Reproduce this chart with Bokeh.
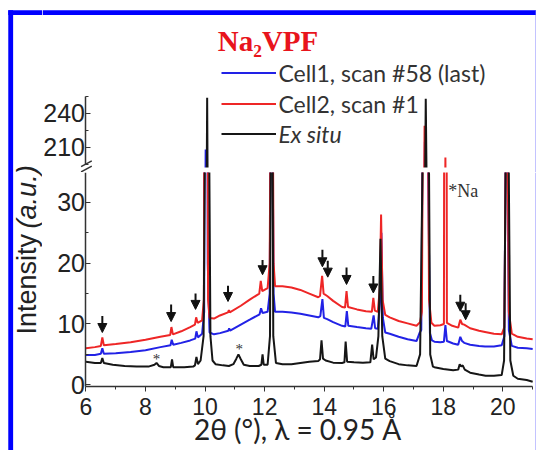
from math import pi

from bokeh.core.properties import value
from bokeh.embed import file_html
from bokeh.layouts import column, row
from bokeh.models import (Arrow, BoxAnnotation, ColumnDataSource, FixedTicker, Label,
                          Legend, LegendItem, NormalHead, Range1d)
from bokeh.plotting import figure
from bokeh.resources import INLINE

# ---- values (2theta in degrees, intensity in a.u.) ----
cell1_x = [6.00, 6.30, 6.50, 6.55, 6.60, 7.00, 7.50, 8.00, 8.50, 8.84, 8.88, 8.93,
           9.20, 9.50, 9.67, 9.71, 9.76, 9.90, 9.97, 10.02, 10.09, 10.15, 10.30,
           10.50, 10.78, 10.81, 10.84, 11.20, 11.50, 11.83, 11.88, 11.93, 12.10,
           12.17, 12.23, 12.30, 12.35, 12.60, 12.90, 13.20, 13.50, 13.80, 13.87,
           13.94, 13.99, 14.10, 14.30, 14.60, 14.71, 14.76, 14.81, 15.10, 15.40,
           15.58, 15.66, 15.71, 15.80, 15.88, 15.92, 15.97, 16.05, 16.20, 16.50,
           16.80, 17.10, 17.20, 17.26, 17.33, 17.38, 17.43, 17.48, 17.55, 17.62,
           17.70, 17.90, 18.02, 18.07, 18.12, 18.33, 18.50, 18.57, 18.63, 18.70,
           18.90, 19.20, 19.40, 19.70, 19.96, 20.05, 20.12, 20.20, 20.30, 20.50,
           20.80, 21.00]
cell1_y = [4.9, 4.9, 5.1, 6.0, 5.1, 5.2, 5.4, 5.7, 6.2, 6.5, 7.4, 6.6,
           6.9, 7.3, 7.6, 8.8, 7.8, 8.4, 12.0, 208.0, 20.0, 8.6, 8.3,
           8.5, 8.9, 9.3, 8.9, 9.9, 10.7, 11.6, 12.6, 11.8, 12.0,
           15.0, 70.0, 15.0, 12.0, 12.0, 11.9, 11.7, 11.4, 11.1, 11.3,
           14.1, 11.0, 10.8, 10.3, 9.7, 9.6, 12.1, 9.7, 9.5, 9.3,
           9.2, 11.4, 9.3, 9.2, 14.0, 25.0, 11.0, 8.6, 8.4, 7.9,
           7.5, 7.2, 8.5, 9.0, 60.0, 215.0, 120.0, 40.0, 8.5, 7.3,
           7.1, 7.0, 7.1, 9.8, 7.2, 6.8, 6.6, 7.9, 7.2, 6.9,
           6.6, 6.4, 6.3, 6.3, 6.5, 8.0, 60.0, 9.0, 6.4, 6.1,
           6.0, 5.9]

cell2_x = [6.00, 6.30, 6.50, 6.55, 6.60, 7.00, 7.50, 8.00, 8.50, 8.83, 8.87, 8.92,
           9.20, 9.50, 9.66, 9.70, 9.75, 9.90, 9.96, 10.04, 10.10, 10.15, 10.30,
           10.50, 10.77, 10.80, 10.83, 11.20, 11.50, 11.82, 11.87, 11.92, 12.10,
           12.17, 12.24, 12.30, 12.35, 12.60, 12.90, 13.20, 13.50, 13.80, 13.86,
           13.93, 13.98, 14.10, 14.30, 14.60, 14.70, 14.75, 14.80, 15.10, 15.40,
           15.60, 15.65, 15.70, 15.80, 15.87, 15.91, 15.96, 16.05, 16.20, 16.50,
           16.80, 17.10, 17.22, 17.28, 17.33, 17.37, 17.42, 17.47, 17.52, 17.60,
           17.70, 17.90, 18.02, 18.07, 18.12, 18.30, 18.50, 18.57, 18.63, 18.70,
           18.90, 19.20, 19.40, 19.70, 19.96, 20.05, 20.13, 20.20, 20.30, 20.50,
           20.80, 21.00]
cell2_y = [6.0, 6.2, 6.4, 7.8, 6.5, 6.7, 7.0, 7.4, 7.9, 8.2, 9.5, 8.3,
           8.8, 9.5, 9.9, 11.1, 10.2, 10.6, 14.0, 190.0, 14.0, 11.0, 10.9,
           11.4, 11.9, 12.3, 11.9, 13.0, 14.0, 15.0, 17.1, 15.4, 15.9,
           20.0, 80.0, 20.0, 16.2, 16.2, 16.0, 15.6, 15.0, 14.4, 14.6,
           17.9, 15.0, 14.6, 13.8, 12.8, 12.7, 15.4, 12.8, 12.4, 12.1,
           12.0, 14.3, 12.2, 12.0, 16.0, 28.0, 14.0, 11.5, 11.1, 10.5,
           10.1, 9.7, 10.3, 12.0, 60.0, 229.0, 150.0, 60.0, 14.0, 10.2,
           9.7, 9.8, 10.0, 201.0, 10.2, 9.7, 9.4, 10.7, 10.0, 9.9,
           9.3, 8.9, 8.7, 8.4, 8.3, 9.5, 60.0, 12.0, 8.4, 7.9,
           7.6, 7.5]

exsitu_x = [6.00, 6.30, 6.50, 6.55, 6.60, 6.90, 7.30, 7.70, 8.10, 8.30, 8.37, 8.45,
            8.60, 8.85, 8.89, 8.93, 9.30, 9.60, 9.66, 9.71, 9.76, 9.85, 9.95, 10.03,
            10.07, 10.11, 10.18, 10.25, 10.35, 10.60, 10.80, 10.95, 11.05, 11.12,
            11.20, 11.30, 11.50, 11.80, 11.89, 11.93, 11.97, 12.10, 12.18, 12.24,
            12.29, 12.38, 12.60, 12.90, 13.20, 13.50, 13.80, 13.86, 13.91, 13.96,
            14.05, 14.30, 14.60, 14.68, 14.72, 14.77, 15.00, 15.30, 15.55, 15.61,
            15.66, 15.74, 15.82, 15.89, 15.95, 16.05, 16.20, 16.50, 16.80, 17.10,
            17.22, 17.30, 17.37, 17.41, 17.45, 17.50, 17.56, 17.65, 17.70, 18.00,
            18.33, 18.50, 18.55, 18.60, 18.65, 18.72, 18.90, 19.20, 19.42, 19.70,
            19.96, 20.04, 20.10, 20.15, 20.19, 20.25, 20.35, 20.50, 20.80, 21.00]
exsitu_y = [3.8, 3.6, 3.6, 4.4, 3.6, 3.3, 3.1, 3.0, 3.0, 3.3, 3.6, 3.1,
            2.9, 2.9, 4.2, 2.9, 2.9, 3.0, 3.2, 4.6, 3.4, 4.0, 8.0, 60.0,
            254.0, 60.0, 8.0, 4.0, 3.4, 3.2, 3.1, 3.4, 4.3, 5.0,
            4.2, 3.3, 3.1, 3.1, 3.3, 5.0, 3.3, 3.3, 8.0, 80.0,
            8.0, 3.6, 3.4, 3.4, 3.6, 3.8, 3.9, 4.2, 7.3, 4.3,
            4.0, 3.65, 3.6, 3.7, 7.1, 3.8, 3.7, 3.65, 3.7, 6.6,
            4.2, 4.5, 8.0, 24.0, 8.0, 4.3, 3.9, 3.4, 3.2, 3.1,
            5.0, 35.0, 120.0, 253.0, 150.0, 50.0, 5.0, 3.0, 2.9, 2.6,
            2.4, 2.5, 3.4, 3.0, 3.2, 2.5, 2.0, 1.7, 1.5, 1.5,
            1.6, 4.0, 40.0, 70.0, 40.0, 4.0, 1.5, 1.0, 0.8, 0.5]

# arrows marking the new reflections (x, arrow top, arrow tip)
arrow_x = [6.55, 8.86, 9.68, 10.77, 11.93, 13.94, 14.12, 14.75, 15.65, 18.57, 18.75]
arrow_top = [11.3, 13.2, 15.0, 16.3, 20.5, 22.2, 20.4, 19.3, 17.9, 14.8, 13.4]
arrow_tip = [8.6, 10.4, 12.4, 13.7, 18.1, 19.4, 17.7, 16.5, 15.1, 12.1, 10.7]

# impurity asterisks on the ex situ pattern
star_x = [8.37, 11.15]
star_y = [4.2, 5.9]

x_ticks = [6, 8, 10, 12, 14, 16, 18, 20]
x_minor = [7, 9, 11, 13, 15, 17, 19, 21]
low_ticks = [0, 10, 20, 30]
low_minor = [5, 15, 25]
high_ticks = [210, 240]
high_minor = [195, 225, 255]

BLUE = "#2222e6"
RED = "#ee2626"
BLACK = "#161616"
AXIS = "#333333"
FRAME_BLUE = "#0000ff"

# whole graphic is drawn 536x450 so it fits inside the 8px page margin
SX = 536 / 552
SY = 450 / 466
LAB_W = 42
FIG_W = 536 - LAB_W
TOP_H = 172
LOW_H = 450 - TOP_H


# pixel positions of the original graphic -> axis values
def x_at(px):
    return 6 + (px - 88) / 30.67


def hi_at(py):
    return 240 + (117 - py) / 1.1667


def lo_at(py):
    return (398 - py) / 6.3


x_range = Range1d(x_at(LAB_W / SX), x_at(552))


def add_yaxis(fig, ticks, minor, bounds):
    ax = fig.yaxis[0]
    ax.fixed_location = 6
    ax.bounds = bounds
    ax.ticker = FixedTicker(ticks=ticks, minor_ticks=minor)
    ax.major_tick_in = 5
    ax.major_tick_out = 0
    ax.minor_tick_in = 3
    ax.minor_tick_out = 0
    ax.axis_line_width = 1.5
    ax.axis_line_color = AXIS
    ax.major_tick_line_color = AXIS
    ax.minor_tick_line_color = AXIS
    ax.major_label_text_font = "Liberation Sans"
    ax.major_label_text_font_size = "25px"
    ax.major_label_text_color = "#222222"
    ax.major_label_standoff = 1


def draw_traces(fig):
    rs = []
    for xs, ys, col in [(cell1_x, cell1_y, BLUE), (cell2_x, cell2_y, RED),
                        (exsitu_x, exsitu_y, BLACK)]:
        rs.append(fig.line(xs, ys, line_color=col, line_width=2))
    return rs


def box(**kw):
    return BoxAnnotation(fill_alpha=1, line_color=None, **kw)


# ---- upper part of the broken axis ----
top = figure(width=FIG_W, height=TOP_H, x_range=x_range,
             y_range=Range1d(hi_at(TOP_H / SY), hi_at(0)),
             x_axis_location=None, toolbar_location=None, output_backend="svg",
             min_border=0, outline_line_color=None)
top.grid.visible = False
add_yaxis(top, high_ticks, high_minor, (195, 255))
r_blue, r_red, r_black = draw_traces(top)
top.add_layout(box(left=6.3, top=hi_at(173), fill_color="white"))
# axis break marks
top.segment(x0=[x_at(83)] * 2, y0=[hi_at(172), hi_at(177.5)],
            x1=[x_at(94)] * 2, y1=[hi_at(166), hi_at(171.5)],
            line_color=AXIS, line_width=1.5)
top.add_layout(box(bottom=hi_at(15), top=hi_at(10), fill_color=FRAME_BLUE))
top.add_layout(box(left=x_at(551), top=hi_at(10), fill_color="#8080ff"))

top.add_layout(Label(x=x_at(275.5), y=hi_at(42), text="Na₂VPF", text_align="center",
                     text_baseline="alphabetic", text_font="Liberation Serif",
                     text_font_style="bold", text_font_size="29px",
                     text_color="#e8141c"))

leg1 = Legend(items=[LegendItem(label="Cell1, scan #58 (last)", renderers=[r_blue]),
                     LegendItem(label="Cell2, scan #1", renderers=[r_red])],
              location=(228 * SX - LAB_W, 54))
leg2 = Legend(items=[LegendItem(label="Ex situ", renderers=[r_black])],
              location=(228 * SX - LAB_W, 24), label_text_font_style="italic")
for leg in (leg1, leg2):
    leg.glyph_width = 55
    leg.glyph_height = 29
    leg.label_height = 29
    leg.label_standoff = 2
    leg.spacing = 2
    leg.padding = 0
    leg.margin = 0
    leg.border_line_color = None
    leg.background_fill_alpha = 0
    leg.label_text_font = "Lato"
    leg.label_text_font_size = "23px"
    leg.label_text_color = "#333333"
    top.add_layout(leg)

# ---- lower part of the broken axis ----
low = figure(width=FIG_W, height=LOW_H, x_range=x_range,
             y_range=Range1d(lo_at(466), lo_at(TOP_H / SY)),
             toolbar_location=None, output_backend="svg", min_border=0,
             outline_line_color=None)
low.grid.visible = False
add_yaxis(low, low_ticks, low_minor, (lo_at(400), lo_at(TOP_H / SY)))
xa = low.xaxis[0]
xa.fixed_location = lo_at(400)
xa.bounds = (6, 21)
xa.ticker = FixedTicker(ticks=x_ticks, minor_ticks=x_minor)
xa.major_tick_in = 0
xa.major_tick_out = 5
xa.minor_tick_in = 0
xa.minor_tick_out = 3
xa.axis_line_width = 1.5
xa.axis_line_color = AXIS
xa.major_tick_line_color = AXIS
xa.minor_tick_line_color = AXIS
xa.major_label_text_font = "Liberation Sans"
xa.major_label_text_font_size = "23px"
xa.major_label_text_color = "#222222"
xa.major_label_standoff = 6

draw_traces(low)
low.add_layout(box(left=x_at(551), fill_color="#8080ff"))

arrows = ColumnDataSource(dict(x=arrow_x, y0=arrow_top, y1=arrow_tip))
low.add_layout(Arrow(x_start="x", y_start="y0", x_end="x", y_end="y1", source=arrows,
                     line_width=2, line_color="#111111",
                     end=NormalHead(size=9, fill_color="#111111", line_color="#111111")))

low.text(star_x, star_y, text=["*", "*"], text_align="center", text_baseline="middle",
         text_font=value("Liberation Serif"), text_font_size="15px", text_color="#333333")
low.add_layout(Label(x=x_at(461), y=lo_at(197), text="*Na", text_baseline="middle",
                     text_font="Liberation Serif", text_font_size="18px",
                     text_color="#333333"))
low.add_layout(Label(x=x_at(306), y=lo_at(444), text="2θ (°), λ = 0.95 Å",
                     text_align="center", text_baseline="middle", text_font="Lato",
                     text_font_size="28px", text_color="#222222"))

# ---- y axis title spanning both parts, plus the blue frame on the left ----
lab = figure(width=LAB_W, height=450, x_range=Range1d(0, LAB_W / SX),
             y_range=Range1d(0, 466), x_axis_location=None, y_axis_location=None,
             toolbar_location=None, output_backend="svg", min_border=0,
             outline_line_color=None)
lab.grid.visible = False
lab.add_layout(box(left=8, right=13, top=466 - 10, fill_color=FRAME_BLUE))
lab.add_layout(box(left=8, bottom=466 - 15, top=466 - 10, fill_color=FRAME_BLUE))
lab.add_layout(Label(x=27, y=466 - 346, text="Intensity", angle=pi / 2,
                     text_align="left", text_baseline="middle",
                     text_font="Liberation Sans", text_font_size="27px",
                     text_color="#222222"))
lab.add_layout(Label(x=27, y=466 - 236, text="(a.u.)", angle=pi / 2,
                     text_align="left", text_baseline="middle",
                     text_font="Liberation Sans", text_font_style="italic",
                     text_font_size="27px", text_color="#222222"))

p = row(lab, column(top, low))

open("out.html", "w").write(file_html(p, INLINE))
